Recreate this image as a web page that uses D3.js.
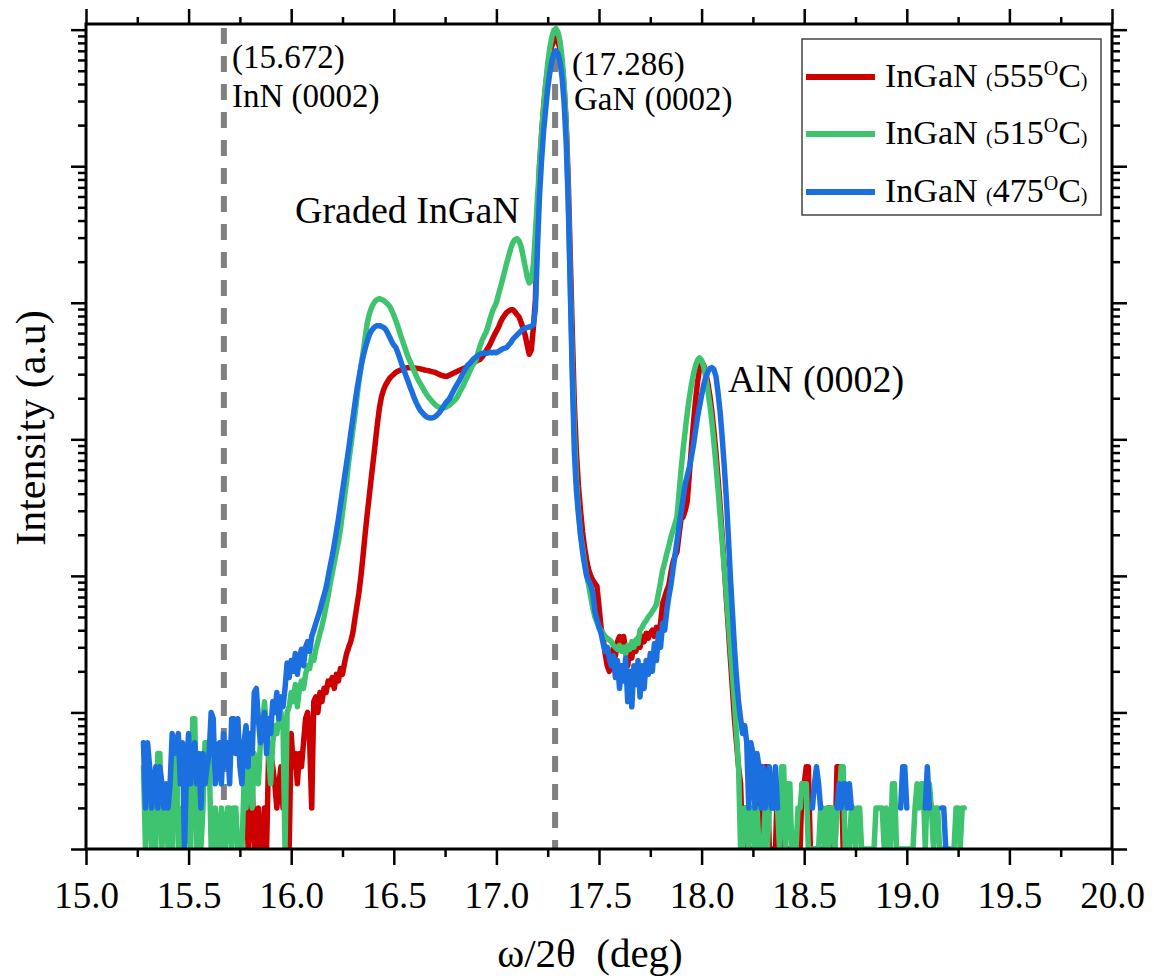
<!DOCTYPE html>
<html>
<head>
<meta charset="utf-8">
<script src="https://cdn.jsdelivr.net/npm/d3@7"></script>
<style>
  html, body { margin: 0; padding: 0; background: #fff; }
  svg { display: block; }
  text { fill: #000; white-space: pre; }
</style>
</head>
<body>
<svg id="chart" width="1154" height="979"></svg>
<script>
// ω/2θ scans, counts per step of 0.01°
const stepDeg = 0.01;

// InGaN grown at 555 °C, first point at 15.77°
const red555Start = 15.77;
const red555 = [
  3,3,1,2,3,1,1,2,1,1,
  2,1,5,5,4,3,2,3,4,2,
  3,2,1,7,4,5,3,5,4,6,
  9,10,6,2,12,13,10,14,12,15,
  14,17,16,18,15,19,17,21,19,23,
  27,30,33,38,48,60,75,100,140,200,
  280,380,520,700,950,1300,1700,2050,2300,2500,
  2650,2800,2900,3000,3100,3150,3200,3250,3300,3330,
  3350,3350,3340,3330,3320,3300,3280,3250,3220,3200,
  3180,3150,3120,3100,3050,3000,2950,2920,2900,2900,
  2950,3000,3050,3100,3150,3200,3250,3300,3350,3420,
  3500,3580,3650,3720,3800,3850,4000,4200,4450,4700,
  5000,5400,5800,6200,6600,7200,7700,8100,8500,8700,
  8900,8900,8600,8200,7900,7200,6500,5800,4900,4200,
  4500,6500,10500,40000,100000,170000,270000,390000,520000,650000,
  760000,830000,860000,820000,720000,560000,380000,210000,80000,22000,
  6000,1800,800,450,300,210,160,130,110,100,
  93,88,84,60,42,35,27,22,20,24,
  30,26,33,36,30,36,28,22,30,25,
  32,28,35,30,36,33,38,35,38,40,
  36,42,38,45,63,70,78,85,105,125,
  140,150,200,260,270,300,350,550,850,1300,
  1900,2600,3300,3700,3500,3100,2600,2100,1600,1150,
  800,520,330,200,120,70,42,25,15,9,
  6,4,3,1,2,1,1,1,1,1,
  1,4,4,1,4,4,1,1,1,1,
  3,3,1,1,1,1,1,1,1,1,
  1,1,3,3,4,4,1,1,1,1,
  1,1,1,1,1,2,2,1,1,4,
  4,4,1,1
];

// InGaN grown at 515 °C, first point at 15.28°
const green515Start = 15.28;
const green515 = [
  4,1,3,3,1,3,1,5,5,1,
  2,2,1,2,1,6,6,1,1,2,
  1,2,3,1,9,9,1,2,1,2,
  6,6,5,1,1,2,1,1,2,1,
  1,2,2,1,2,2,1,1,1,3,
  2,4,3,2,5,4,3,6,8,12,
  7,5,3,6,8,7,9,10,8,1,
  10,11,14,12,16,11,15,17,15,19,
  22,21,26,24,29,33,38,43,50,60,
  72,88,104,125,150,178,220,290,380,500,
  680,880,1150,1500,2000,2650,3400,4300,5500,7000,
  8200,9100,9800,10300,10600,10700,10600,10400,10100,9800,
  9400,8800,8100,7400,6700,6000,5400,4900,4400,4000,
  3700,3400,3150,2900,2700,2550,2400,2250,2130,2030,
  1950,1870,1800,1750,1720,1700,1700,1710,1740,1780,
  1830,1890,1950,2050,2200,2350,2500,2700,2900,3150,
  3400,3600,3800,4300,4800,5300,5700,6100,6800,7700,
  8600,9300,10000,11500,13000,14800,17000,19500,22000,25000,
  27500,29000,29500,28500,26000,22000,18500,15500,14000,14500,
  19000,32000,58000,100000,170000,270000,400000,560000,730000,880000,
  990000,1020000,960000,820000,620000,400000,200000,60000,14000,3500,
  1100,500,300,200,160,125,100,85,70,58,
  50,46,42,40,38,36,35,34,33,31,
  30,29,31,28,30,27,31,29,33,30,
  34,32,40,42,45,47,50,52,55,58,
  62,75,90,110,125,145,165,190,215,240,
  270,400,600,850,1150,1550,2000,2500,3000,3450,
  3800,3950,3800,3400,2850,2300,1800,1350,950,650,
  430,280,180,115,75,48,30,19,12,7,
  4,1,1,2,2,1,2,2,1,2,
  1,1,1,2,1,2,3,2,3,2,
  1,4,4,1,3,3,1,1,1,2,
  2,3,3,3,1,1,1,1,1,1,
  2,2,1,2,1,2,2,1,2,2,
  4,4,1,1,1,2,2,1,2,2,
  1,1,1,1,1,1,1,2,2,2,
  2,1,2,1,1,3,3,1,1,1,
  1,1,1,1,1,1,2,3,2,3,
  3,1,3,3,2,1,2,2,1,1,
  1,1,1,1,1,1,2,2,1,2,
  2
];

// InGaN grown at 475 °C, first point at 15.28° (null = no counts)
const blue475Start = 15.28;
const blue475 = [
  6,2,6,4,2,3,4,2,4,3,
  2,3,2,3,7,5,6,7,3,6,
  1,4,7,3,5,6,3,5,2,5,
  3,4,5,10,9,3,4,6,3,7,
  4,6,3,9,9,5,9,4,3,6,
  8,4,7,5,14,15,9,6,8,10,
  5,9,7,12,10,14,9,13,11,15,
  23,18,24,20,27,19,25,29,22,30,
  33,28,36,40,45,50,56,64,72,82,
  98,118,140,170,210,260,330,420,530,670,
  850,1100,1400,1800,2300,2800,3400,4000,4600,5200,
  5800,6200,6500,6700,6800,6800,6700,6600,6400,6000,
  5600,5200,4900,4700,4300,3900,3500,3200,2900,2650,
  2400,2200,2000,1850,1720,1620,1560,1500,1460,1440,
  1430,1440,1460,1500,1560,1630,1720,1820,1900,1970,
  2100,2250,2400,2550,2700,2900,3100,3300,3500,3600,
  3750,3900,4000,4100,4200,4250,4300,4250,4300,4350,
  4300,4350,4300,4400,4500,4600,4650,4700,4900,5100,
  5400,5600,5800,6000,6200,6400,6500,6600,6650,6700,
  6900,9000,25000,60000,110000,180000,260000,370000,480000,590000,
  670000,700000,670000,580000,450000,290000,150000,55000,13000,2800,
  800,420,280,200,150,120,100,92,85,75,
  55,48,42,38,32,28,30,25,22,26,
  18,24,15,22,17,25,12,20,11,22,
  16,24,13,22,15,24,19,27,20,32,
  24,38,30,45,40,55,70,85,110,140,
  180,230,290,370,470,540,620,740,900,1150,
  1450,1750,2100,2500,2850,3100,3300,3350,3250,2900,
  2200,1600,1050,650,380,200,100,55,30,18,
  12,9,7,8,6,2,6,5,2,5,
  4,2,4,2,3,4,2,2,4,2,
  null,null,null,null,null,null,null,null,null,null,
  null,null,null,null,null,null,2,3,4,3,
  2,null,null,null,null,null,null,null,2,3,
  2,3,3,2,3,2,null,null,null,null,
  null,null,null,null,null,null,null,null,null,null,
  null,null,null,null,null,null,null,null,null,2,
  4,4,2,null,null,null,null,null,null,null,
  null,2,4,2,null,null,null,null,null,2,
  2,1,1
];

const seriesTemps = ["555", "515", "475"];
const seriesColors = ["#cc0000", "#3ec46f", "#1c6fde"];

const xMajorTicks = [15.0, 15.5, 16.0, 16.5, 17.0, 17.5, 18.0, 18.5, 19.0, 19.5, 20.0];
const xMinorTicks = [15.25, 15.75, 16.25, 16.75, 17.25, 17.75, 18.25, 18.75, 19.25, 19.75];

// reference reflections (dashed markers)
const refPositions = [15.672, 17.286];
const refPosLabels = ["(15.672)", "(17.286)"];
const refNames = ["InN (0002)", "GaN (0002)"];

// ---------------------------------------------------------------
// pick the first Times-like face that is actually installed
function pickSerif(candidates) {
  const ctx = document.createElement("canvas").getContext("2d");
  const probe = "Graded InGaN (0002) 15.672 Intensity";
  for (const f of candidates) {
    ctx.font = `40px "${f}", monospace`;
    const a = ctx.measureText(probe).width;
    ctx.font = `40px "${f}", sans-serif`;
    const b = ctx.measureText(probe).width;
    if (Math.abs(a - b) < 0.01) return `"${f}", serif`;
  }
  return "serif";
}
const FONT = pickSerif(["Liberation Serif", "Tinos", "Times New Roman", "Nimbus Roman",
                        "Nimbus Roman No9 L", "Times", "DejaVu Serif", "Noto Serif"]);

const svg = d3.select("#chart");
svg.append("rect").attr("width", 1154).attr("height", 979).attr("fill", "#fff");

const L = 86, R = 1112, T = 24, B = 849;
const x = d3.scaleLinear().domain([15, 20]).range([L, R]);
const y = d3.scaleLog().domain([1, 1.1e6]).range([B, T]);

function toPoints(start, values) {
  return values.map((v, i) => ({ a: +(start + i * stepDeg).toFixed(2), v }));
}
const series = [
  toPoints(red555Start, red555),
  toPoints(green515Start, green515),
  toPoints(blue475Start, blue475)
];

svg.append("clipPath").attr("id", "plotClip")
  .append("rect").attr("x", L).attr("y", T).attr("width", R - L).attr("height", B - T - 1);

const plot = svg.append("g").attr("clip-path", "url(#plotClip)");

// dashed reference lines
plot.selectAll("line.ref").data(refPositions).join("line")
  .attr("class", "ref")
  .attr("x1", d => x(d)).attr("x2", d => x(d))
  .attr("y1", T + 4).attr("y2", B)
  .attr("stroke", "#808080").attr("stroke-width", 6)
  .attr("stroke-dasharray", "16 12");

const line = d3.line()
  .defined(d => d.v != null)
  .x(d => x(d.a))
  .y(d => y(d.v));

plot.selectAll("path.scan").data(series).join("path")
  .attr("class", "scan")
  .attr("d", line)
  .attr("fill", "none")
  .attr("stroke", (d, i) => seriesColors[i])
  .attr("stroke-width", 5.5)
  .attr("stroke-linejoin", "round")
  .attr("stroke-linecap", "round");

// axes
const yAll = y.ticks();
const yMajor = yAll.filter(v => Math.abs(Math.log10(v) - Math.round(Math.log10(v))) < 1e-9);
const yMinor = yAll.filter(v => !yMajor.includes(v));

function styleTicks(g) {
  g.select(".domain").remove();
  g.selectAll(".tick line").attr("stroke", "#000").attr("stroke-width", 2.5);
}
function addAxis(axis, transform) {
  const g = svg.append("g").attr("transform", transform).call(axis);
  styleTicks(g);
  return g;
}

addAxis(d3.axisBottom(x).tickValues(xMinorTicks).tickSize(8).tickFormat(""), `translate(0,${B})`);
const xb = addAxis(d3.axisBottom(x).tickValues(xMajorTicks).tickSize(16).tickFormat(d3.format(".1f")), `translate(0,${B})`);
xb.selectAll(".tick text")
  .attr("y", 59).attr("dy", null)
  .style("font-size", "37px")
  .attr("fill", "#000");

addAxis(d3.axisTop(x).tickValues(xMinorTicks).tickSize(7).tickFormat(""), `translate(0,${T})`);
addAxis(d3.axisTop(x).tickValues(xMajorTicks).tickSize(15).tickFormat(""), `translate(0,${T})`);

addAxis(d3.axisLeft(y).tickValues(yMinor).tickSize(8).tickFormat(""), `translate(${L},0)`);
addAxis(d3.axisLeft(y).tickValues(yMajor).tickSize(15).tickFormat(""), `translate(${L},0)`);
addAxis(d3.axisRight(y).tickValues(yMinor).tickSize(8).tickFormat(""), `translate(${R},0)`);
addAxis(d3.axisRight(y).tickValues(yMajor).tickSize(15).tickFormat(""), `translate(${R},0)`);

svg.append("rect")
  .attr("x", L).attr("y", T).attr("width", R - L).attr("height", B - T)
  .attr("fill", "none").attr("stroke", "#000").attr("stroke-width", 3);

// axis titles
svg.append("text")
  .attr("x", 590).attr("y", 967)
  .attr("text-anchor", "middle")
  .style("font-size", "41px")
  .text("ω/2θ  (deg)");

svg.append("text")
  .attr("transform", "translate(45,428) rotate(-90)")
  .attr("text-anchor", "middle")
  .style("font-size", "42px")
  .text("Intensity (a.u)");

// reflection labels
const refLabelX = [232, 572];
const refLabelY1 = [68, 75];
const refLabelY2 = [107, 110];
refPositions.forEach((p, i) => {
  svg.append("text").attr("x", refLabelX[i]).attr("y", refLabelY1[i])
    .style("font-size", "33px").text(refPosLabels[i]);
  svg.append("text").attr("x", refLabelX[i] + (i === 1 ? 2 : 0)).attr("y", refLabelY2[i])
    .style("font-size", "33px").text(refNames[i]);
});

svg.append("text").attr("x", 295).attr("y", 223)
  .style("font-size", "38px").text("Graded InGaN");
svg.append("text").attr("x", 728).attr("y", 392)
  .style("font-size", "38px").text("AlN (0002)");

// legend
const lg = svg.append("g");
lg.append("rect")
  .attr("x", 802).attr("y", 39).attr("width", 299).attr("height", 176)
  .attr("fill", "#fff").attr("stroke", "#444").attr("stroke-width", 1.5);

const legendRowY = [77, 134, 192];
seriesTemps.forEach((temp, i) => {
  const cy = legendRowY[i];
  lg.append("line")
    .attr("x1", 806).attr("x2", 875).attr("y1", cy).attr("y2", cy)
    .attr("stroke", seriesColors[i]).attr("stroke-width", 6);
  const t = lg.append("text").attr("x", 885).attr("y", cy + 10).style("font-size", "34px");
  t.append("tspan").text("InGaN ");
  t.append("tspan").style("font-size", "20px").text("(");
  t.append("tspan").text(temp);
  t.append("tspan").style("font-size", "20px").attr("dy", -12).text("O");
  t.append("tspan").attr("dy", 12).text("C");
  t.append("tspan").style("font-size", "20px").text(")");
});

// one serif face for every label
svg.selectAll("text").style("font-family", FONT);
svg.selectAll("g").attr("font-family", null);
</script>
</body>
</html>
